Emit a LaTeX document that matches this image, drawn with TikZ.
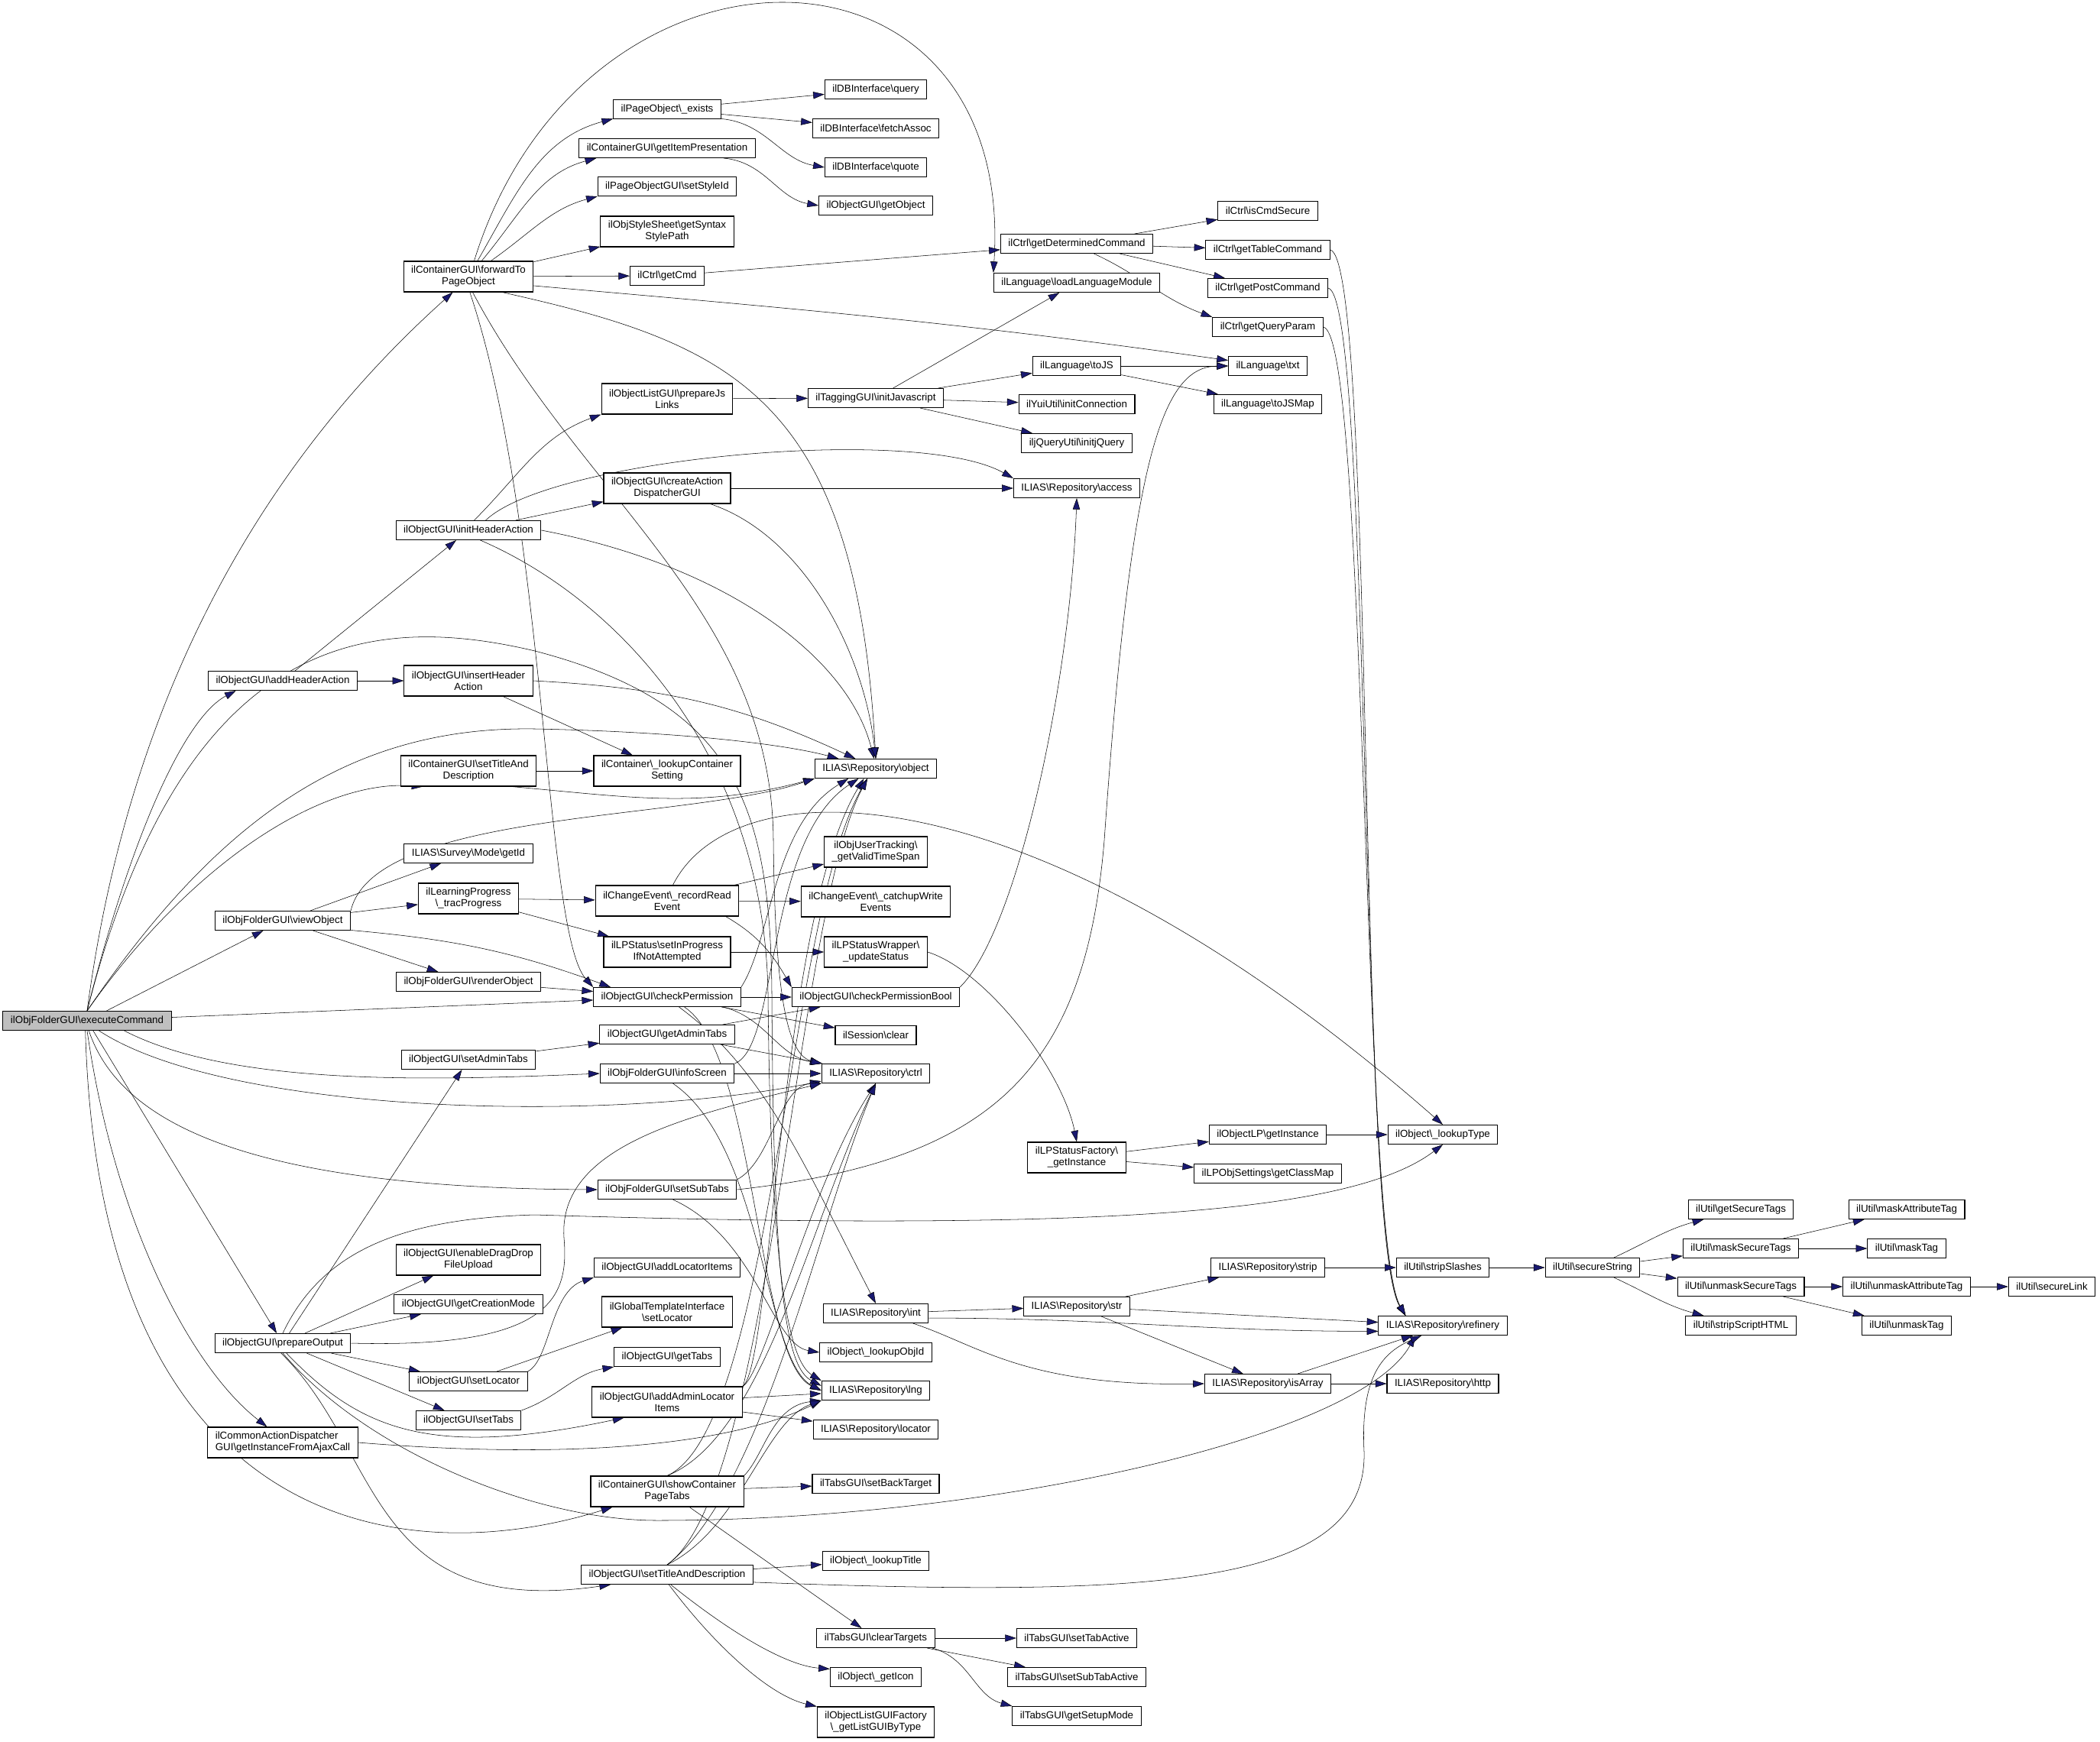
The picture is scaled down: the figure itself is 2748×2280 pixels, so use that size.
\documentclass[tikz,border=0pt]{standalone}
\usepackage{fontspec}
\setmainfont{Liberation Sans}
\usetikzlibrary{arrows.meta,backgrounds}
\definecolor{edgeblue}{HTML}{191970}
\definecolor{rootgray}{HTML}{BFBFBF}
\newcommand{\bk}{\textbackslash}
\tikzset{
  fn/.style={draw=black, fill=white, line width=0.8pt, font=\fontsize{10}{11.25}\selectfont,
    inner xsep=7.5pt, inner ysep=0pt, minimum height=18.75pt, align=center},
  twoline/.style={minimum height=30pt},
  root/.style={fill=rootgray},
  call/.style={draw=edgeblue, line width=0.8pt, -{Triangle[length=11pt,width=7pt]}}
}
\begin{document}
\begin{tikzpicture}[x=0.75pt,y=-0.75pt]
  \useasboundingbox (0,0) rectangle (2748,2280);
  \path
    (114,1336) node[fn,root] (E) {ilObjFolderGUI\bk executeCommand}
    (370,891) node[fn] (addHA) {ilObjectGUI\bk addHeaderAction}
    (370,1205) node[fn] (viewObj) {ilObjFolderGUI\bk viewObject}
    (370,1758) node[fn] (prepOut) {ilObjectGUI\bk prepareOutput}
    (370,1888) node[fn,twoline,align=left] (ajax) {ilCommonActionDispatcher\\GUI\bk getInstanceFromAjaxCall}
    (613,362) node[fn,twoline] (fwd) {ilContainerGUI\bk forwardTo\\PageObject}
    (613,694) node[fn] (iha) {ilObjectGUI\bk initHeaderAction}
    (613,891) node[fn,twoline] (insertHA) {ilObjectGUI\bk insertHeader\\Action}
    (613,1009) node[fn,twoline] (cTitle) {ilContainerGUI\bk setTitleAnd\\Description}
    (613,1117) node[fn] (surveyId) {ILIAS\bk Survey\bk Mode\bk getId}
    (613,1176) node[fn,twoline] (tracProg) {ilLearningProgress\\\bk\_tracProgress}
    (613,1285) node[fn] (renderObj) {ilObjFolderGUI\bk renderObject}
    (613,1387) node[fn] (setAdminTabs) {ilObjectGUI\bk setAdminTabs}
    (613,1649) node[fn,twoline] (dragDrop) {ilObjectGUI\bk enableDragDrop\\FileUpload}
    (613,1707) node[fn] (creationMode) {ilObjectGUI\bk getCreationMode}
    (613,1808) node[fn] (setLocator) {ilObjectGUI\bk setLocator}
    (613,1859) node[fn] (setTabs) {ilObjectGUI\bk setTabs}
    (873,143) node[fn] (pgExists) {ilPageObject\bk\_exists}
    (873,194) node[fn] (itemPres) {ilContainerGUI\bk getItemPresentation}
    (873,244) node[fn] (styleId) {ilPageObjectGUI\bk setStyleId}
    (873,303) node[fn,twoline] (syntaxPath) {ilObjStyleSheet\bk getSyntax\\StylePath}
    (873,361) node[fn] (getCmd) {ilCtrl\bk getCmd}
    (873,522) node[fn,twoline] (prepJs) {ilObjectListGUI\bk prepareJs\\Links}
    (873,639) node[fn,twoline] (createAD) {ilObjectGUI\bk createAction\\DispatcherGUI}
    (873,1009) node[fn,twoline] (lookupCS) {ilContainer\bk\_lookupContainer\\Setting}
    (873,1179) node[fn,twoline] (recordRead) {ilChangeEvent\bk\_recordRead\\Event}
    (873,1246) node[fn,twoline] (setInProg) {ilLPStatus\bk setInProgress\\IfNotAttempted}
    (873,1305) node[fn] (checkPerm) {ilObjectGUI\bk checkPermission}
    (873,1354) node[fn] (getAdminTabs) {ilObjectGUI\bk getAdminTabs}
    (873,1405) node[fn] (infoScreen) {ilObjFolderGUI\bk infoScreen}
    (873,1557) node[fn] (setSubTabs) {ilObjFolderGUI\bk setSubTabs}
    (873,1659) node[fn] (addLocItems) {ilObjectGUI\bk addLocatorItems}
    (873,1717) node[fn,twoline] (globalLoc) {ilGlobalTemplateInterface\\\bk setLocator}
    (873,1776) node[fn] (getTabs) {ilObjectGUI\bk getTabs}
    (873,1835) node[fn,twoline] (adminLoc) {ilObjectGUI\bk addAdminLocator\\Items}
    (873,1952) node[fn,twoline] (showCPT) {ilContainerGUI\bk showContainer\\PageTabs}
    (873,2061) node[fn] (oTitle) {ilObjectGUI\bk setTitleAndDescription}
    (1146,117) node[fn] (query) {ilDBInterface\bk query}
    (1146,168) node[fn] (fetchAssoc) {ilDBInterface\bk fetchAssoc}
    (1146,219) node[fn] (quote) {ilDBInterface\bk quote}
    (1146,269) node[fn] (getObject) {ilObjectGUI\bk getObject}
    (1146,521) node[fn] (initJs) {ilTaggingGUI\bk initJavascript}
    (1146,1006) node[fn] (repObject) {ILIAS\bk Repository\bk object}
    (1146,1115) node[fn,twoline] (validTS) {ilObjUserTracking\bk\\\_getValidTimeSpan}
    (1146,1180) node[fn,twoline] (catchupWE) {ilChangeEvent\bk\_catchupWrite\\Events}
    (1146,1246) node[fn,twoline] (updStatus) {ilLPStatusWrapper\bk\\\_updateStatus}
    (1146,1305) node[fn] (checkPermBool) {ilObjectGUI\bk checkPermissionBool}
    (1146,1355) node[fn] (sessClear) {ilSession\bk clear}
    (1146,1405) node[fn] (ctrl) {ILIAS\bk Repository\bk ctrl}
    (1146,1719) node[fn] (int) {ILIAS\bk Repository\bk int}
    (1146,1770) node[fn] (lookupObjId) {ilObject\bk\_lookupObjId}
    (1146,1820) node[fn] (lng) {ILIAS\bk Repository\bk lng}
    (1146,1871) node[fn] (locator) {ILIAS\bk Repository\bk locator}
    (1146,1942) node[fn] (backTarget) {ilTabsGUI\bk setBackTarget}
    (1146,2043) node[fn] (lookupTitle) {ilObject\bk\_lookupTitle}
    (1146,2144) node[fn] (clearTargets) {ilTabsGUI\bk clearTargets}
    (1146,2195) node[fn] (getIcon) {ilObject\bk\_getIcon}
    (1146,2254) node[fn,twoline] (listGUI) {ilObjectListGUIFactory\\\bk\_getListGUIByType}
    (1409,319) node[fn] (getDetCmd) {ilCtrl\bk getDeterminedCommand}
    (1409,370) node[fn] (loadLang) {ilLanguage\bk loadLanguageModule}
    (1409,479) node[fn] (toJS) {ilLanguage\bk toJS}
    (1409,529) node[fn] (initConn) {ilYuiUtil\bk initConnection}
    (1409,580) node[fn] (initjQuery) {iljQueryUtil\bk initjQuery}
    (1409,639) node[fn] (access) {ILIAS\bk Repository\bk access}
    (1409,1515) node[fn,twoline] (lpFactory) {ilLPStatusFactory\bk\\\_getInstance}
    (1409,1710) node[fn] (str) {ILIAS\bk Repository\bk str}
    (1409,2144) node[fn] (setTabActive) {ilTabsGUI\bk setTabActive}
    (1409,2195) node[fn] (setSubTabActive) {ilTabsGUI\bk setSubTabActive}
    (1409,2246) node[fn] (setupMode) {ilTabsGUI\bk getSetupMode}
    (1659,276) node[fn] (isCmdSecure) {ilCtrl\bk isCmdSecure}
    (1659,327) node[fn] (tableCmd) {ilCtrl\bk getTableCommand}
    (1659,377) node[fn] (postCmd) {ilCtrl\bk getPostCommand}
    (1659,428) node[fn] (queryParam) {ilCtrl\bk getQueryParam}
    (1659,479) node[fn] (txt) {ilLanguage\bk txt}
    (1659,529) node[fn] (toJSMap) {ilLanguage\bk toJSMap}
    (1659,1485) node[fn] (objLP) {ilObjectLP\bk getInstance}
    (1659,1536) node[fn] (classMap) {ilLPObjSettings\bk getClassMap}
    (1659,1659) node[fn] (strip) {ILIAS\bk Repository\bk strip}
    (1659,1811) node[fn] (isArray) {ILIAS\bk Repository\bk isArray}
    (1888,1485) node[fn] (lookupType) {ilObject\bk\_lookupType}
    (1888,1659) node[fn] (stripSlashes) {ilUtil\bk stripSlashes}
    (1888,1735) node[fn] (refinery) {ILIAS\bk Repository\bk refinery}
    (1888,1811) node[fn] (http) {ILIAS\bk Repository\bk http}
    (2084,1659) node[fn] (secureString) {ilUtil\bk secureString}
    (2278,1583) node[fn] (getSecureTags) {ilUtil\bk getSecureTags}
    (2278,1634) node[fn] (maskSecureTags) {ilUtil\bk maskSecureTags}
    (2278,1684) node[fn] (unmaskSecureTags) {ilUtil\bk unmaskSecureTags}
    (2278,1735) node[fn] (stripScriptHTML) {ilUtil\bk stripScriptHTML}
    (2495,1583) node[fn] (maskAttrTag) {ilUtil\bk maskAttributeTag}
    (2495,1634) node[fn] (maskTag) {ilUtil\bk maskTag}
    (2495,1684) node[fn] (unmaskAttrTag) {ilUtil\bk unmaskAttributeTag}
    (2495,1735) node[fn] (unmaskTag) {ilUtil\bk unmaskTag}
    (2685,1684) node[fn] (secureLink) {ilUtil\bk secureLink};
  \begin{scope}[on background layer,call]
    % executeCommand
    \draw (E.north) .. controls (170,900) and (350,600) .. (fwd.-135);
    \draw (E.north) .. controls (170,1100) and (240,940) .. (addHA.-168);
    \draw (E.north) .. controls (250,1130) and (420,1020) .. (cTitle.-161);
    \draw (E) to (viewObj);
    \draw (E.north) .. controls (280,1080) and (450,950) .. (700,954) .. controls (900,958) and (1030,975) .. (repObject.165);
    \draw (E.north) .. controls (240,830) and (480,800) .. (700,852) .. controls (960,920) and (1008,1050) .. (1010,1300) .. controls (1012,1700) and (1030,1790) .. (lng.175);
    \draw (E) to (checkPerm);
    \draw (E.-15) .. controls (300,1420) and (550,1415) .. (infoScreen.west);
    \draw (E.-40) .. controls (300,1460) and (800,1470) .. (ctrl.188);
    \draw (E.-80) .. controls (160,1480) and (350,1555) .. (setSubTabs.west);
    \draw (E) to (prepOut);
    \draw (E.south) .. controls (150,1600) and (250,1790) .. (ajax.135);
    \draw (E.-100) .. controls (130,2000) and (520,2060) .. (showCPT.-164);
    % forwardTo
    \draw (fwd.70) .. controls (760,-110) and (1330,-110) .. (loadLang.north west);
    \draw (fwd.60) to[out=60,in=195] (pgExists.190);
    \draw (fwd.50) to[out=50,in=195] (itemPres.188);
    \draw (fwd.35) to[out=35,in=195] (styleId.south west);
    \draw (fwd) to (syntaxPath);
    \draw (fwd) to (getCmd);
    \draw (fwd.-8) to[out=-5,in=172] (txt.172);
    \draw (fwd.-25) .. controls (960,450) and (1120,520) .. (repObject.north);
    \draw (fwd.-85) .. controls (715,680) and (712,1220) .. (checkPerm.north west);
    \draw (fwd.-75) .. controls (760,650) and (1010,800) .. (1012,1100) .. controls (1014,1300) and (1030,1380) .. (ctrl.north west);
    % initHeaderAction
    \draw (iha.60) to[out=45,in=200] (prepJs.south west);
    \draw (iha) to (createAD);
    \draw (iha.30) .. controls (720,600) and (1200,555) .. (access.north west);
    \draw (iha.east) .. controls (950,740) and (1110,860) .. (repObject.100);
    \draw (iha.-40) .. controls (820,790) and (1000,1000) .. (1005,1300) .. controls (1008,1650) and (1030,1780) .. (lng.north west);
    \draw (pgExists) to (query);
    \draw (pgExists) to (fetchAssoc);
    \draw (pgExists.-10) to[out=-5,in=170] (quote.west);
    \draw (itemPres.-10) to[out=-5,in=170] (getObject.west);
    \draw (getCmd) to (getDetCmd);
    \draw (getDetCmd) to (isCmdSecure);
    \draw (getDetCmd) to (tableCmd);
    \draw (getDetCmd) to (postCmd);
    \draw (getDetCmd.-30) to[out=-25,in=160] (queryParam.north west);
    \draw (tableCmd.east) .. controls (1800,340) and (1775,1620) .. (refinery.165);
    \draw (postCmd.east) .. controls (1795,390) and (1778,1620) .. (refinery.165);
    \draw (queryParam.east) .. controls (1790,441) and (1781,1620) .. (refinery.165);
    \draw (prepJs) to (initJs);
    \draw (initJs) to (loadLang);
    \draw (initJs) to (toJS);
    \draw (initJs) to (initConn);
    \draw (initJs) to (initjQuery);
    \draw (toJS) to (txt);
    \draw (toJS) to (toJSMap);
    \draw (createAD) to (access);
    \draw (createAD.-20) .. controls (1050,700) and (1130,850) .. (repObject.north);
    % middle
    \draw (addHA) to (iha);
    \draw (addHA) to (insertHA);
    \draw (insertHA) to (lookupCS);
    \draw (insertHA.east) to[out=-3,in=155] (repObject.154);
    \draw (cTitle) to (lookupCS);
    \draw (cTitle.-20) to[out=-5,in=195] (repObject.south west);
    \draw (viewObj) to (surveyId);
    \draw (viewObj) to (tracProg);
    \draw (viewObj) to (renderObj);
    \draw (viewObj.-8) to[out=-5,in=160] (checkPerm.170);
    \draw (viewObj.north east) .. controls (490,1060) and (900,1075) .. (repObject.south west);
    \draw (renderObj) to (checkPerm);
    \draw (tracProg) to (recordRead);
    \draw (tracProg) to (setInProg);
    \draw (recordRead) to (validTS);
    \draw (recordRead) to (catchupWE);
    \draw (recordRead.-15) to[out=-30,in=120] (checkPermBool.north west);
    \draw (recordRead.70) .. controls (960,1000) and (1350,1000) .. (lookupType.north);
    \draw (setInProg) to (updStatus);
    \draw (updStatus.east) .. controls (1290,1270) and (1390,1400) .. (lpFactory.north);
    \draw (lpFactory) to (objLP);
    \draw (lpFactory) to (classMap);
    \draw (objLP) to (lookupType);
    \draw (checkPermBool.north east) .. controls (1330,1220) and (1400,900) .. (access.south);
    \draw (checkPerm) to (checkPermBool);
    \draw (checkPerm) to (sessClear);
    \draw (checkPerm.-10) to[out=-15,in=170] (ctrl.north west);
    \draw (checkPerm.north east) .. controls (1010,1230) and (1010,1080) .. (repObject.-160);
    \draw (checkPerm.-40) .. controls (1000,1400) and (1050,1520) .. (int.north);
    \draw (checkPerm.-30) .. controls (990,1380) and (990,1780) .. (lng.west);
    \draw (setAdminTabs) to (getAdminTabs);
    \draw (getAdminTabs) to (checkPermBool);
    \draw (getAdminTabs) to (ctrl);
    \draw (infoScreen) to (ctrl);
    \draw (infoScreen.north east) .. controls (1020,1370) and (1000,1100) .. (repObject.-150);
    \draw (infoScreen.-60) .. controls (1000,1500) and (1000,1780) .. (lng.west);
    % lower
    \draw (setSubTabs.north east) .. controls (1010,1520) and (1020,1420) .. (ctrl.south west);
    \draw (setSubTabs.east) .. controls (1300,1520) and (1420,1400) .. (1445,1100) .. controls (1480,600) and (1520,480) .. (txt.west);
    \draw (setSubTabs.-60) .. controls (990,1620) and (1010,1760) .. (lookupObjId.west);
    \draw (prepOut) to (dragDrop);
    \draw (prepOut) to (creationMode);
    \draw (prepOut) to (setLocator);
    \draw (prepOut) to (setTabs);
    \draw (prepOut) to (setAdminTabs);
    \draw (prepOut.north) .. controls (420,1640) and (520,1595) .. (700,1590) .. controls (1500,1615) and (1780,1580) .. (lookupType.south);
    \draw (prepOut.east) .. controls (720,1765) and (745,1700) .. (738,1620) .. controls (730,1500) and (900,1460) .. (ctrl.south west);
    \draw (prepOut.-70) .. controls (470,1870) and (560,1910) .. (adminLoc.200);
    \draw (prepOut.south) .. controls (480,1900) and (700,1990) .. (860,1990) .. controls (1300,1990) and (1780,1880) .. (refinery.-160);
    \draw (prepOut.-100) .. controls (500,1900) and (480,2120) .. (oTitle.190);
    \draw (ajax.east) .. controls (800,1915) and (980,1880) .. (lng.south west);
    \draw (setLocator.north east) .. controls (720,1780) and (720,1690) .. (addLocItems.south west);
    \draw (setLocator) to (globalLoc);
    \draw (setTabs.north east) to[out=20,in=190] (getTabs.south west);
    \draw (adminLoc) to (lng);
    \draw (adminLoc) to (locator);
    \draw (adminLoc.north east) .. controls (1000,1800) and (1060,1550) .. (ctrl.south);
    \draw (adminLoc.north east) .. controls (1010,1790) and (1020,1200) .. (repObject.-140);
    \draw (showCPT) to (backTarget);
    \draw (showCPT) to (clearTargets);
    \draw (showCPT.north east) .. controls (1000,1905) and (1010,1840) .. (lng.south west);
    \draw (showCPT.north) .. controls (1000,1880) and (1060,1600) .. (ctrl.south);
    \draw (showCPT.north) .. controls (1010,1870) and (1030,1200) .. (repObject.-130);
    \draw (oTitle) to (lookupTitle);
    \draw (oTitle.-5) .. controls (1500,2090) and (1790,2080) .. (1785,1900) .. controls (1780,1800) and (1810,1770) .. (refinery.-155);
    \draw (oTitle.-70) .. controls (960,2140) and (1030,2180) .. (getIcon.170);
    \draw (oTitle.-80) .. controls (940,2160) and (1010,2220) .. (listGUI.north west);
    \draw (oTitle.north) .. controls (970,2000) and (1000,1860) .. (lng.south west);
    \draw (oTitle.north) .. controls (1000,1950) and (1070,1600) .. (ctrl.south);
    \draw (oTitle.north) .. controls (1010,1950) and (1040,1200) .. (repObject.-130);
    \draw (clearTargets) to (setTabActive);
    \draw (clearTargets) to (setSubTabActive);
    \draw (clearTargets.-10) to[out=-15,in=165] (setupMode.north west);
    % right
    \draw (int) to (str);
    \draw (int.-5) to[out=0,in=180] (refinery.-175);
    \draw (int.-15) .. controls (1280,1760) and (1340,1815) .. (isArray.west);
    \draw (str) to (strip);
    \draw (str) to (refinery);
    \draw (str) to (isArray);
    \draw (isArray) to (refinery);
    \draw (isArray) to (http);
    \draw (strip) to (stripSlashes);
    \draw (stripSlashes) to (secureString);
    \draw (secureString) to[out=25,in=195] (getSecureTags);
    \draw (secureString) to (maskSecureTags);
    \draw (secureString) to (unmaskSecureTags);
    \draw (secureString) to[out=-25,in=165] (stripScriptHTML);
    \draw (maskSecureTags) to (maskAttrTag);
    \draw (maskSecureTags) to (maskTag);
    \draw (unmaskSecureTags) to (unmaskAttrTag);
    \draw (unmaskSecureTags) to (unmaskTag);
    \draw (unmaskAttrTag) to (secureLink);
  \end{scope}
\end{tikzpicture}
\end{document}
